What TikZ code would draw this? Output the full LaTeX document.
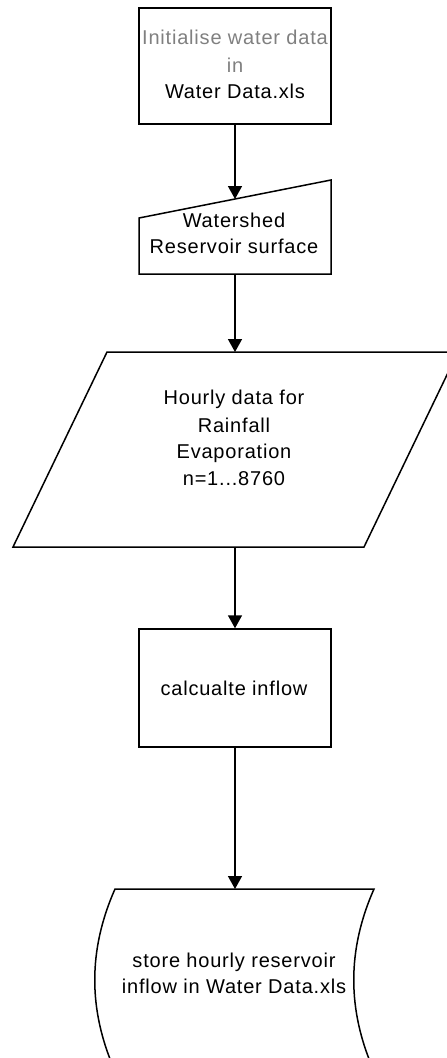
\documentclass[tikz,border=0pt]{standalone}
\usepackage{fontspec}
\setmainfont{Liberation Sans}[LetterSpace=4]
\usetikzlibrary{arrows.meta}
\begin{document}
\begin{tikzpicture}[x=1pt,y=-1pt,
  shapeline/.style={draw=black, line width=1.5pt, line join=miter},
  flow/.style={draw=black, line width=1.5pt, -{Triangle[width=14pt,length=13pt]}},
  lbl/.style={anchor=base, inner sep=0pt, font=\fontsize{20}{24}\selectfont},
  boxnode/.style={shapeline, rectangle, minimum width=192pt, minimum height=116pt, inner sep=0pt}]
\useasboundingbox (0,0) rectangle (447,1058);
\clip (0,0) rectangle (447,1058);
\fill[white] (0,0) rectangle (447,1058);

% initialise box
\node[boxnode] (init) at (235,66) {};
\node[lbl, text=gray] (t1) at (235,44) {Initialise water data};
\node[lbl, text=gray] (t2) at (235,72) {in};
\node[lbl] (t3) at (235,98) {Water Data.xls};

% manual input
\draw[shapeline] (139,218) -- (331,180) -- (331,274) -- (139,274) -- cycle;
\coordinate (mitop) at (235,199);
\coordinate (mibot) at (235,274);
\node[lbl] (m1) at (234,227) {Watershed};
\node[lbl] (m2) at (234,253) {Reservoir surface};

% parallelogram
\draw[shapeline] (107,352) -- (458,352) -- (364,547) -- (13,547) -- cycle;
\coordinate (patop) at (235,352);
\coordinate (pabot) at (235,547);
\node[lbl] (p1) at (234,404) {Hourly data for};
\node[lbl] (p2) at (234,432) {Rainfall};
\node[lbl] (p3) at (234,458) {Evaporation};
\node[lbl] (p4) at (234,485) {n=1...8760};

% calculate box
\node[boxnode, minimum height=118pt] (calc) at (235,688) {};
\node[lbl] (c1) at (234,695) {calcualte inflow};

% stored data
\draw[shapeline] (115,889) -- (374,889) .. controls (347,950) and (347,1010) .. (374,1071)
  -- (115,1071) .. controls (88,1010) and (88,950) .. (115,889) -- cycle;
\coordinate (sttop) at (235,889);
\node[lbl] (s1) at (234,967) {store hourly reservoir};
\node[lbl] (s2) at (234,993) {inflow in Water Data.xls};

% connectors
\draw[flow] (init.south) -- (mitop);
\draw[flow] (mibot) -- (patop);
\draw[flow] (pabot) -- (calc.north);
\draw[flow] (calc.south) -- (sttop);
\end{tikzpicture}
\end{document}
